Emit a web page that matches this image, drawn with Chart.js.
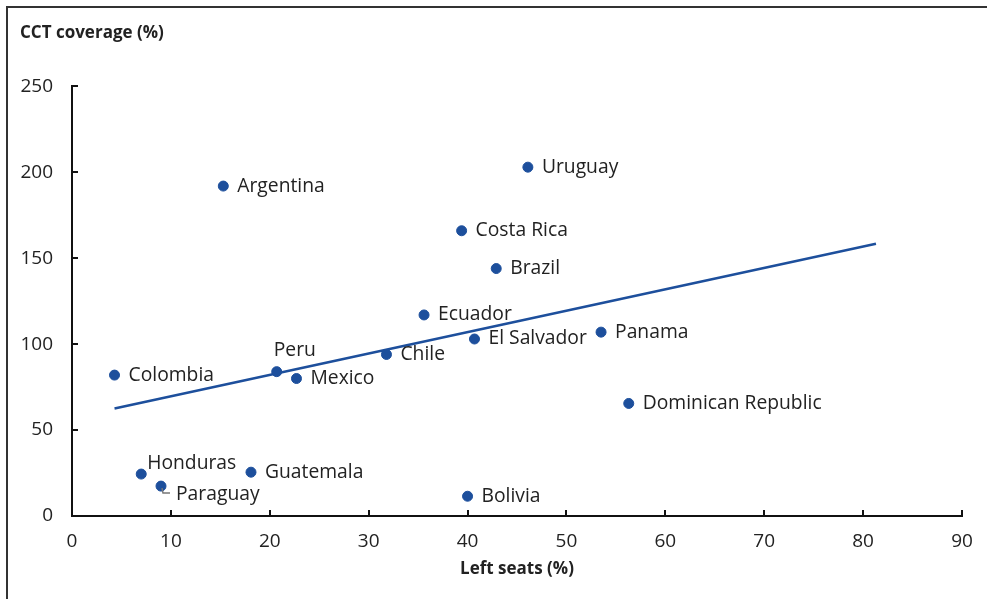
<!DOCTYPE html>
<html>
<head>
<meta charset="utf-8">
<script src="https://cdn.jsdelivr.net/npm/chart.js@4.4.1/dist/chart.umd.min.js"></script>
<style>
  html, body { margin: 0; padding: 0; background: #fff; }
  #wrap { width: 987px; height: 599px; }
</style>
</head>
<body>
<div id="wrap"><canvas id="cctChart" width="987" height="599"></canvas></div>
<script>
// values
const countries = ['Argentina', 'Uruguay', 'Costa Rica', 'Brazil', 'Ecuador', 'El Salvador', 'Panama', 'Chile',
    'Peru', 'Mexico', 'Colombia', 'Dominican Republic', 'Honduras', 'Guatemala', 'Paraguay', 'Bolivia'];
const leftSeats = [15.3, 46.1, 39.4, 42.9, 35.6, 40.7, 53.5, 31.8, 20.7, 22.7, 4.3, 56.3, 7.0, 18.1, 9.0, 40.0];
const cctCoverage = [192, 203, 166, 144, 117, 103, 107, 94, 84, 80, 82, 65.5, 24.4, 25.5, 17.4, 11.5];
const trendX = [4.3, 81.3];
const trendY = [62.6, 158.4];
const xTicks = [0, 10, 20, 30, 40, 50, 60, 70, 80, 90];
const yTicks = [0, 50, 100, 150, 200, 250];

const blue = '#1d4f9c';
const ink = '#222';
const fontFamily = '"Open Sans", "Noto Sans", sans-serif';

// where each label sits relative to its dot (default: right of it)
const labelOffsets = { 'Peru': [-3, -21], 'Honduras': [6, -11], 'Paraguay': [15, 8] };

const overlay = {
    id: 'overlay',
    beforeDraw(chart) {
        const c = chart.ctx;
        c.save();
        c.fillStyle = '#333';
        c.fillRect(6, 6, chart.width, 2);
        c.fillRect(6, 6, 2, chart.height);
        c.restore();
    },
    afterDatasetsDraw(chart) {
        const c = chart.ctx;
        const area = chart.chartArea;
        const xs = chart.scales.x, ys = chart.scales.y;
        c.save();
        // inward tick marks
        c.strokeStyle = '#111';
        c.lineWidth = 2;
        yTicks.forEach(v => {
            const y = Math.round(ys.getPixelForValue(v));
            c.beginPath(); c.moveTo(area.left, y); c.lineTo(area.left + 6, y); c.stroke();
        });
        xTicks.forEach(v => {
            const x = Math.round(xs.getPixelForValue(v));
            c.beginPath(); c.moveTo(x, area.bottom); c.lineTo(x, area.bottom - 6); c.stroke();
        });
        // point labels
        c.font = '19.3px ' + fontFamily;
        c.fillStyle = ink;
        c.textAlign = 'left';
        c.textBaseline = 'middle';
        const pts = chart.getDatasetMeta(0).data;
        countries.forEach((name, i) => {
            const p = pts[i];
            const off = labelOffsets[name] || [14, 0];
            c.fillText(name, p.x + off[0], p.y + off[1]);
            if (name === 'Paraguay') {
                c.strokeStyle = '#777';
                c.lineWidth = 1.5;
                c.beginPath();
                c.moveTo(p.x + 1, p.y + 2);
                c.lineTo(p.x + 2, p.y + 7);
                c.lineTo(p.x + 9, p.y + 7);
                c.stroke();
            }
        });
        c.restore();
    }
};

const ctx = document.getElementById('cctChart').getContext('2d');
const chart = new Chart(ctx, {
    type: 'scatter',
    data: {
        datasets: [{
            label: 'Countries',
            data: countries.map((c, i) => ({ x: leftSeats[i], y: cctCoverage[i] })),
            backgroundColor: blue,
            borderColor: blue,
            pointRadius: 5,
            pointHoverRadius: 5
        }, {
            type: 'line',
            label: 'Trend',
            data: trendX.map((x, i) => ({ x: x, y: trendY[i] })),
            borderColor: blue,
            borderWidth: 2.5,
            pointRadius: 0,
            fill: false
        }]
    },
    options: {
        responsive: false,
        animation: false,
        layout: { padding: { left: 20, right: 25, top: 0, bottom: 0 } },
        plugins: {
            legend: { display: false },
            tooltip: { enabled: false },
            title: {
                display: true,
                text: 'CCT coverage (%)',
                align: 'start',
                color: ink,
                font: { family: fontFamily, size: 17, weight: 'bold' },
                padding: { top: 23, bottom: 43 }
            }
        },
        scales: {
            x: {
                type: 'linear',
                min: 0, max: 90,
                grid: { display: false, drawTicks: false },
                border: { display: true, color: '#111', width: 2 },
                ticks: { stepSize: 10, color: ink, padding: 14, font: { family: fontFamily, size: 19 } },
                title: {
                    display: true,
                    text: 'Left seats (%)',
                    color: ink,
                    font: { family: fontFamily, size: 17, weight: 'bold' },
                    padding: { top: 0, bottom: 20 }
                },
                afterFit(scale) { scale.height = 83; }
            },
            y: {
                min: 0, max: 250,
                grid: { display: false, drawTicks: false },
                border: { display: true, color: '#111', width: 2 },
                ticks: { stepSize: 50, color: ink, padding: 19, font: { family: fontFamily, size: 19 } },
                afterFit(scale) { scale.width = 52; }
            }
        }
    },
    plugins: [overlay]
});
</script>
</body>
</html>
